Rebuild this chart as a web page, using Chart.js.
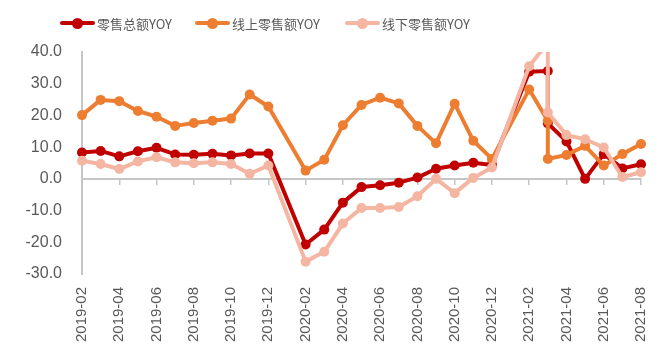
<!DOCTYPE html>
<html><head><meta charset="utf-8">
<script src="https://cdn.jsdelivr.net/npm/chart.js@4.4.1/dist/chart.umd.min.js"></script>
<style>
html,body{margin:0;padding:0;background:#fff;}
#wrap{position:relative;width:663px;height:356px;overflow:hidden;}
#c{position:absolute;left:0;top:0;}
.leg{position:absolute;top:14px;height:18px;display:flex;align-items:center;font-family:"Noto Sans CJK SC","Noto Sans",sans-serif;font-size:13px;color:#595959;white-space:nowrap;}
.sw{position:relative;width:35px;height:12px;margin-right:2px;}
.sw .ln{position:absolute;left:0;right:0;top:4px;height:4px;border-radius:2px;}
.sw .dt{position:absolute;left:12px;top:0.5px;width:11px;height:11px;border-radius:50%;}
</style>
</head><body>
<div id="wrap"><canvas id="c" width="663" height="356"></canvas></div>
<script>
const categories = ['2019-02','2019-03','2019-04','2019-05','2019-06','2019-07','2019-08','2019-09','2019-10','2019-11','2019-12',
  '2020-01','2020-02','2020-03','2020-04','2020-05','2020-06','2020-07','2020-08','2020-09','2020-10','2020-11','2020-12',
  '2021-01','2021-02','2021-03','2021-04','2021-05','2021-06','2021-07','2021-08'];
const pointMonths = ['2019-02','2019-03','2019-04','2019-05','2019-06','2019-07','2019-08','2019-09','2019-10','2019-11','2019-12',
  '2020-02','2020-03','2020-04','2020-05','2020-06','2020-07','2020-08','2020-09','2020-10','2020-11','2020-12',
  '2021-02','2021-03','2021-03','2021-04','2021-05','2021-06','2021-07','2021-08'];
const totalYoY   = [8.3, 8.8, 7.1, 8.7, 9.8, 7.7, 7.6, 7.9, 7.4, 8.0, 8.0,
  -20.7, -16.0, -7.5, -2.6, -2.0, -1.2, 0.4, 3.2, 4.2, 5.1, 4.4,
  33.8, 34.0, 17.5, 11.8, 0.0, 7.8, 3.3, 4.6];
const onlineYoY  = [20.1, 24.9, 24.5, 21.4, 19.6, 16.7, 17.6, 18.3, 19.0, 26.6, 22.8,
  2.6, 6.0, 16.9, 23.3, 25.6, 23.8, 16.7, 11.2, 23.7, 12.0, 6.3,
  28.2, 18.3, 6.3, 7.5, 10.4, 4.2, 7.8, 11.0];
const offlineYoY = [5.7, 4.7, 3.1, 5.5, 6.8, 5.2, 4.9, 5.2, 4.7, 1.6, 4.2,
  -26.1, -23.0, -14.1, -9.2, -9.2, -8.9, -5.5, 0.0, -4.5, 0.3, 3.6,
  35.5, 43.0, 20.9, 13.8, 12.5, 9.9, 0.6, 2.1];
const yTicks = [-30, -20, -10, 0, 10, 20, 30, 40];
const seriesNames = ['零售总额YOY', '线上零售额YOY', '线下零售额YOY'];
const seriesColors = ['#C00000', '#ED7D31', '#F4B6A2'];
const legendLeft = [60, 195, 345];

// HTML legend
const wrap = document.getElementById('wrap');
seriesNames.forEach((n, i) => {
  const d = document.createElement('div');
  d.className = 'leg';
  d.style.left = legendLeft[i] + 'px';
  d.innerHTML = '<span class="sw"><span class="ln" style="background:' + seriesColors[i] + '"></span><span class="dt" style="background:' + seriesColors[i] + '"></span></span><span>' + n + '</span>';
  wrap.appendChild(d);
});

function toPoints(vals) {
  return vals.map((v, i) => ({ x: categories.indexOf(pointMonths[i]), y: v }));
}
const seriesVals = [totalYoY, onlineYoY, offlineYoY];
const datasets = seriesVals.map((vals, i) => ({
  label: seriesNames[i],
  data: toPoints(vals),
  borderColor: seriesColors[i],
  backgroundColor: seriesColors[i],
  pointBackgroundColor: seriesColors[i],
  pointBorderColor: seriesColors[i],
  borderWidth: 4,
  pointRadius: 5,
  pointBorderWidth: 0,
  pointHoverRadius: 5,
  tension: 0,
  borderJoinStyle: 'round',
  borderCapStyle: 'round',
  order: 3 - i,
  clip: { left: 10, right: 10, top: 0, bottom: 10 },
  xAxisID: 'x',
  yAxisID: 'y'
}));

const gray = '#595959';
const axisGray = '#C6C6C6';
const xFont = { family: '"Liberation Sans", Arial, sans-serif', size: 15 };
const yFont = { family: '"Liberation Sans", Arial, sans-serif', size: 16 };
const lastIdx = categories.length - 1;
const W = 663, H = 356;
const areaLeft = 82, areaTop = 52, areaBottom = 274, areaRight = 641;

new Chart(document.getElementById('c'), {
  type: 'line',
  data: { datasets },
  options: {
    responsive: false,
    animation: false,
    events: [],
    layout: { padding: { top: areaTop, left: 0, right: W - areaRight, bottom: 0 } },
    plugins: { legend: { display: false }, tooltip: { enabled: false } },
    scales: {
      x: {
        type: 'linear',
        position: { y: 0 },
        min: 0, max: lastIdx,
        ticks: { display: false, stepSize: 2 },
        grid: { display: true, drawOnChartArea: false, drawTicks: true, tickLength: 5, color: axisGray, lineWidth: 1.5 },
        border: { display: true, color: axisGray, width: 2 }
      },
      xl: {
        type: 'linear',
        position: 'bottom',
        min: 0, max: lastIdx,
        afterBuildTicks: (s) => { s.ticks = categories.map((c, i) => ({ value: i })).filter(t => t.value % 2 === 0); },
        afterFit: (s) => { s.height = H - areaBottom; s.paddingLeft = 0; s.paddingRight = 0; },
        ticks: {
          autoSkip: false, maxRotation: 90, minRotation: 90, padding: 13,
          color: gray, font: xFont,
          callback: (v) => categories[v]
        },
        grid: { display: false, drawTicks: false },
        border: { display: false }
      },
      y: {
        type: 'linear',
        position: 'left',
        min: yTicks[0], max: yTicks[yTicks.length - 1],
        afterBuildTicks: (s) => { s.ticks = yTicks.map(v => ({ value: v })); },
        afterFit: (s) => { s.width = areaLeft; s.paddingTop = 0; s.paddingBottom = 0; },
        ticks: { color: gray, font: yFont, padding: 20, callback: (v) => Number(v).toFixed(1) },
        grid: { display: false, drawTicks: false },
        border: { display: true, color: axisGray, width: 2 }
      }
    }
  }
});
</script>
</body></html>
